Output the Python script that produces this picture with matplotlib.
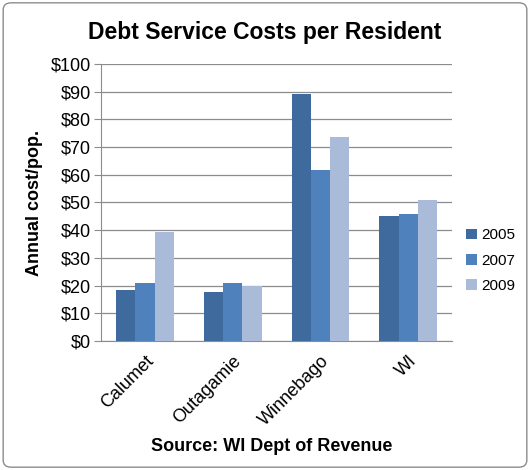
import matplotlib
matplotlib.use("Agg")
import matplotlib.pyplot as plt
import numpy as np
from matplotlib.patches import FancyBboxPatch

categories = ["Calumet", "Outagamie", "Winnebago", "WI"]
years = ["2005", "2007", "2009"]
cost_2005 = [18.3, 17.7, 89.2, 45.0]
cost_2007 = [20.8, 20.8, 61.6, 45.9]
cost_2009 = [39.4, 20.0, 73.8, 50.8]
colors = ["#3F6A9E", "#4F81BD", "#AABAD9"]

plt.rcParams["font.family"] = ["Liberation Sans", "DejaVu Sans"]

fig = plt.figure(figsize=(5.3, 4.7), dpi=100)
fig.patches.append(FancyBboxPatch(
    (0.006, 0.006), 0.988, 0.988, boxstyle="round,pad=0,rounding_size=0.015",
    transform=fig.transFigure, facecolor="none", edgecolor="#8C8C8C", lw=1.0,
    zorder=-1,
))
ax = fig.add_axes([0.1906, 0.2745, 0.6624, 0.5893])

x = np.arange(len(categories))
w = 0.219
for k, (vals, lab) in enumerate(zip([cost_2005, cost_2007, cost_2009], years)):
    ax.bar(x + (k - 1) * w, vals, w, color=colors[k], label=lab, zorder=3)

ax.set_xlim(-0.5, len(categories) - 0.5)
ax.set_ylim(0, 100)
ax.set_yticks(range(0, 101, 10))
ax.set_yticklabels([f"${v}" for v in range(0, 101, 10)], fontsize=13)
ax.set_xticks(x)
ax.set_xticklabels(categories, rotation=45, ha="right", rotation_mode="anchor", fontsize=13)
ax.tick_params(axis="x", length=0, pad=8)
ax.tick_params(axis="y", length=5, color="#8C8C8C", pad=2)
ax.grid(axis="y", color="#8C8C8C", lw=0.9, zorder=0)
ax.set_axisbelow(True)
for s in ["top", "right"]:
    ax.spines[s].set_visible(False)
ax.spines["left"].set_color("#8C8C8C")
ax.spines["bottom"].set_color("#8C8C8C")

ax.set_ylabel("Annual cost/pop.", fontsize=13, fontweight="bold", labelpad=6)
fig.text(0.5, 0.93, "Debt Service Costs per Resident", ha="center", va="center",
         fontsize=16.5, fontweight="bold")
fig.text(0.513, 0.049, "Source: WI Dept of Revenue", ha="center", va="center",
         fontsize=13, fontweight="bold")

ax.legend(loc="center left", bbox_to_anchor=(1.0, 0.29), frameon=False,
          fontsize=11, handlelength=0.7, handleheight=0.7, handletextpad=0.3,
          labelspacing=0.75)

fig.savefig("out.png", dpi=100)
